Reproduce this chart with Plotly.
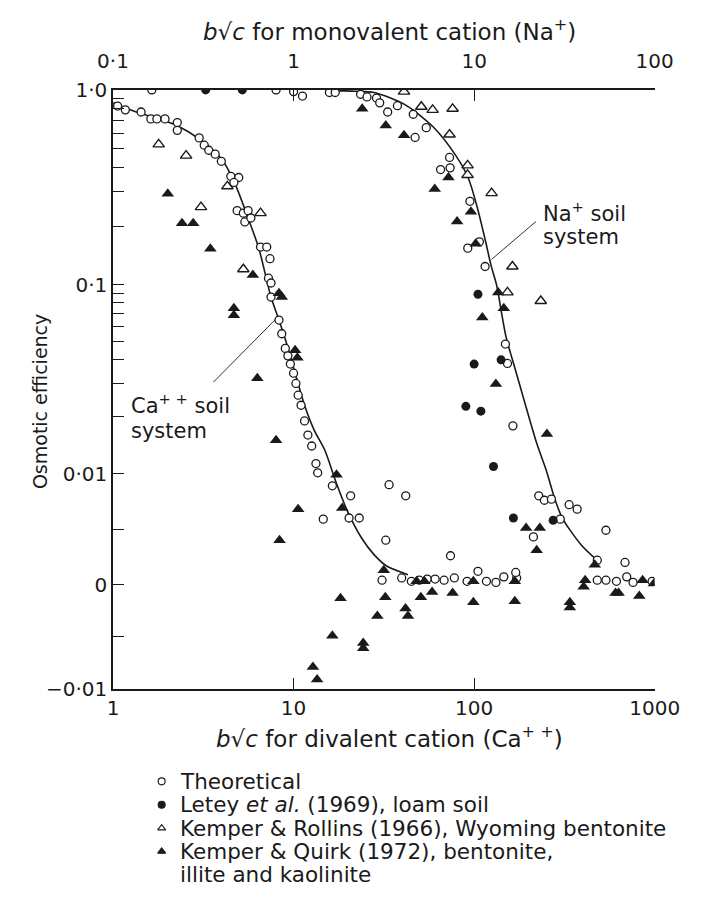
import numpy as np
import plotly.graph_objects as go

# ---------------------------------------------------------------
# Data: x in b*sqrt(c); Ca system on the divalent (bottom) scale,
# Na system on the monovalent (top) scale.
# ---------------------------------------------------------------

# Theoretical points (open circles)
ca_theo_x = [1.06, 1.17, 1.43, 1.62, 1.75, 1.94, 2.27, 2.27, 3.0, 3.2, 3.39, 3.68, 3.98,
             4.49, 4.97, 4.67, 4.87, 5.27, 5.6, 5.37, 5.8, 6.56, 7.1, 7.4, 7.26, 7.5, 7.5,
             8.3, 8.6, 9.0, 9.3, 9.6, 10.0, 10.3, 10.6, 11.0, 11.5, 12.0, 12.6,
             13.3, 13.6, 16.4, 20.7, 14.6, 20.3, 23.1, 33.8, 41.8, 32.4, 30.9, 39.7,
             44.9, 49.7, 55, 60.8, 68.2, 77.7, 91.4, 117, 132, 146, 172, 74, 105, 170]
ca_theo_y = [0.826, 0.79, 0.77, 0.71, 0.71, 0.71, 0.68, 0.62, 0.567, 0.52, 0.49, 0.468, 0.43,
             0.36, 0.355, 0.335, 0.24, 0.233, 0.24, 0.21, 0.22, 0.156, 0.156, 0.136, 0.108, 0.102, 0.086,
             0.065, 0.055, 0.046, 0.042, 0.038, 0.034, 0.03, 0.026, 0.023, 0.019, 0.016, 0.014,
             0.0113, 0.0101, 0.0089, 0.008, 0.0059, 0.006, 0.006, 0.009, 0.008, 0.004, 0.0004, 0.0006,
             0.0003, 0.0004, 0.0005, 0.0005, 0.0004, 0.0006, 0.0003, 0.0003, 0.0002, 0.0007, 0.0006,
             0.0026, 0.0012, 0.0011]
na_theo_x = [0.164, 0.80, 1.00, 1.12, 1.58, 1.70, 2.35, 2.55, 2.88, 3.00, 3.32, 3.76, 4.60,
             4.71, 5.43, 7.31, 6.52, 7.36, 9.48, 9.22, 10.7, 11.5, 14.9, 15.3, 16.4,
             22.8, 24.5, 26.8, 33.6, 37.2, 30.0, 21.3, 53.7, 48.1, 68.5,
             48.1, 53.7, 61.4, 70.0, 75.9, 96.8]
na_theo_y = [1.0, 1.0, 0.98, 0.93, 0.97, 0.97, 0.95, 0.92, 0.908, 0.858, 0.77, 0.83, 0.75,
             0.57, 0.64, 0.45, 0.39, 0.398, 0.268, 0.154, 0.166, 0.124, 0.0485, 0.0383, 0.0179,
             0.008, 0.0076, 0.0077, 0.0072, 0.0068, 0.0059, 0.0043, 0.0049, 0.0022, 0.002,
             0.0004, 0.0004, 0.0003, 0.0007, 0.0002, 0.0003]

# Letey et al. (1969), loam soil (filled circles) - Na system
letey_x = [0.326, 0.52, 10.5, 10.0, 14.1, 9.0, 10.9, 12.8, 16.5, 27.4]
letey_y = [1.0, 1.0, 0.089, 0.038, 0.040, 0.0227, 0.0214, 0.0109, 0.006, 0.0058]

# Kemper & Rollins (1966), Wyoming bentonite (open triangles)
kr_ca_x = [1.79, 2.54, 3.07, 4.3, 6.56, 5.27]
kr_ca_y = [0.525, 0.46, 0.25, 0.32, 0.233, 0.12]
kr_na_x = [4.09, 5.1, 5.89, 7.6, 7.31, 9.2, 9.2, 12.5, 16.3, 15.3, 23.4]
kr_na_y = [0.98, 0.82, 0.79, 0.80, 0.59, 0.41, 0.366, 0.295, 0.124, 0.091, 0.082]

# Kemper & Quirk (1972), bentonite, illite and kaolinite (filled triangles)
kq_ca_x = [2.01, 2.41, 2.78, 3.46, 5.95, 4.67, 4.67, 6.3, 8.0, 8.3, 8.6, 10.2, 10.5,
           17.3, 18.6, 10.6, 8.36, 31.6, 18.2, 32.2, 29.1, 41.7, 16.4, 24.3, 24.3, 12.8, 13.5,
           48, 53, 50.7, 58.5, 76, 43, 99, 99, 168, 168]
kq_ca_y = [0.293, 0.207, 0.207, 0.153, 0.112, 0.075, 0.069, 0.032, 0.015, 0.09, 0.086, 0.045, 0.041,
           0.0099, 0.0069, 0.0068, 0.004, 0.0013, -0.0013, -0.0012, -0.003, -0.0023, -0.0049, -0.0056, -0.0061, -0.0079, -0.0091,
           0.0003, 0.0003, -0.0012, -0.0007, -0.0008, -0.003, 0.0003, -0.0017, 0.0003, -0.0016]
kq_na_x = [2.4, 3.24, 4.09, 7.21, 6.05, 9.6, 8.05, 10.2, 13.6, 14.6, 11.1, 13.2, 25.3,
           19.4, 23.1, 22.2, 46.6, 33.9, 33.9, 41.2, 40.4, 60.7, 63.1, 82.2, 85.7, 99.0]
kq_na_y = [0.80, 0.656, 0.585, 0.355, 0.31, 0.237, 0.211, 0.162, 0.091, 0.075, 0.067, 0.0298, 0.0162,
           0.0051, 0.0051, 0.0031, 0.0018, -0.0017, -0.0022, 0.0004, -0.0002, -0.0008, -0.0008, -0.0011, 0.0004, 0.0001]

# Theoretical curves
ca_curve_x = [1.0, 1.3, 1.7, 2.27, 3.0, 4.0, 4.67, 5.5, 6.4, 7.5, 8.3, 9.2, 10.2, 11.5, 13.0,
              14.9, 17.2, 19.9, 23.8, 27.9, 32.6, 43.0]
ca_curve_y = [0.86, 0.78, 0.72, 0.655, 0.56, 0.44, 0.34, 0.23, 0.155, 0.086, 0.065, 0.048, 0.034,
              0.023, 0.017, 0.0133, 0.0092, 0.0066, 0.0042, 0.0027, 0.0017, 0.0009]
na_curve_x = [1.5, 2.2, 2.79, 4.14, 5.94, 7.92, 9.26, 10.4, 11.5, 12.4, 13.3, 15.0, 16.9, 19.0,
              22.2, 25.0, 28.0, 30.8, 39.1, 48.0]
na_curve_y = [0.995, 0.985, 0.97, 0.84, 0.645, 0.46, 0.355, 0.25, 0.171, 0.126, 0.1, 0.0533, 0.0356,
              0.0241, 0.0145, 0.0105, 0.0077, 0.006, 0.0036, 0.0022]

# Leader lines for the curve labels
ca_leader_x = [3.6, 8.2]
ca_leader_y = [0.0305, 0.0676]
na_leader_x = [22.0, 12.5]
na_leader_y = [0.211, 0.135]

# y-axis ticks
y_major_vals = [1.0, 0.1, 0.01, 0.0, -0.01]
y_major_text = ["1·0", "0·1", "0·01", "0", "\u22120·01"]
y_minor_vals = [0.9, 0.8, 0.7, 0.6, 0.5, 0.4, 0.3, 0.2,
                0.09, 0.08, 0.07, 0.06, 0.05, 0.04, 0.03, 0.02, 0.005, -0.005]

# legend rows
legend_names = ["Theoretical", "Letey <i>et al.</i> (1969), loam soil",
                "Kemper & Rollins (1966), Wyoming bentonite",
                "Kemper & Quirk (1972), bentonite,", "illite and kaolinite"]

# ---------------------------------------------------------------
# Mixed y scale: logarithmic from 1 down to 0.01, linear from 0.01 to -0.01
# ---------------------------------------------------------------
LOG_KEYS, LOG_POS = [-2.0, -1.0, 0.0], [-1.97, -1.0, 0.0]
LIN_KEYS, LIN_POS = [-0.01, 0.0, 0.01], [-3.075, -2.54, -1.97]


def yscale(values):
    v = np.asarray(values, dtype=float)
    logpart = np.interp(np.log10(np.clip(v, 1e-6, None)), LOG_KEYS, LOG_POS)
    linpart = np.interp(v, LIN_KEYS, LIN_POS)
    return np.where(v >= 0.01, logpart, linpart)


INK = "#1a1a1a"
FONT = "DejaVu Sans, Liberation Sans, Arial, sans-serif"
W, H = 707, 918


def fx(px):
    return px / W


def fy(py):
    return 1 - py / H


fig = go.Figure()

line_style = dict(color=INK, width=1.6, shape="spline", smoothing=0.8)
fig.add_trace(go.Scatter(x=ca_curve_x, y=yscale(ca_curve_y), mode="lines",
                         line=line_style, hoverinfo="skip"))
fig.add_trace(go.Scatter(x=na_curve_x, y=yscale(na_curve_y), mode="lines", xaxis="x2",
                         line=line_style, hoverinfo="skip"))
fig.add_trace(go.Scatter(x=ca_leader_x, y=yscale(ca_leader_y), mode="lines",
                         line=dict(color=INK, width=0.9), hoverinfo="skip"))
fig.add_trace(go.Scatter(x=na_leader_x, y=yscale(na_leader_y), mode="lines", xaxis="x2",
                         line=dict(color=INK, width=0.9), hoverinfo="skip"))

open_circle = dict(symbol="circle", size=8, color="white", line=dict(color=INK, width=1.3))
filled_circle = dict(symbol="circle", size=9, color=INK, line=dict(color=INK, width=0))
open_tri = dict(symbol="triangle-up", size=10, color="white", line=dict(color=INK, width=1.4))
filled_tri = dict(symbol="triangle-up", size=11, color=INK, line=dict(color=INK, width=0))

series = [
    (open_circle, ca_theo_x, ca_theo_y, na_theo_x, na_theo_y),
    (filled_circle, [], [], letey_x, letey_y),
    (open_tri, kr_ca_x, kr_ca_y, kr_na_x, kr_na_y),
    (filled_tri, kq_ca_x, kq_ca_y, kq_na_x, kq_na_y),
]
for marker, cx, cy, nx, ny in series:
    if cx:
        fig.add_trace(go.Scatter(x=cx, y=yscale(cy), mode="markers", marker=marker))
    fig.add_trace(go.Scatter(x=nx, y=yscale(ny), mode="markers", marker=marker, xaxis="x2"))

# legend keys: one marker per legend row, drawn in a small auxiliary panel
key_markers = [dict(m, size=7, line=dict(color=INK, width=1.1)) for m, *_ in series]
for row, m in enumerate(key_markers):
    fig.add_trace(go.Scatter(x=[0.012], y=[row], mode="markers", marker=m,
                             xaxis="x3", yaxis="y3", hoverinfo="skip"))
for row, name in enumerate(legend_names):
    fig.add_annotation(x=0.043, y=row, xref="x3", yref="y3", text=name, showarrow=False,
                       xanchor="left", yanchor="middle",
                       font=dict(family=FONT, size=21.5, color=INK))

axis_common = dict(showgrid=False, zeroline=False, showline=True, linecolor=INK, linewidth=1.6,
                   ticks="inside", tickcolor=INK, tickwidth=1.4, ticklen=11,
                   tickfont=dict(family=FONT, size=20, color=INK))

fig.update_layout(
    width=W, height=H,
    margin=dict(l=0, r=0, t=0, b=0),
    paper_bgcolor="white", plot_bgcolor="white",
    showlegend=False,
    font=dict(family=FONT, color=INK),
    xaxis=dict(type="log", range=[0, 3], domain=[fx(103), fx(678)], anchor="y",
               tickvals=[1, 10, 100, 1000], ticktext=["1", "10", "100", "1000"], **axis_common),
    xaxis2=dict(type="log", range=[-1, 2], overlaying="x", side="top", anchor="y",
                tickvals=[0.1, 1, 10, 100], ticktext=["0·1", "1", "10", "100"],
                ticklabelstandoff=12, **axis_common),
    yaxis=dict(range=[LIN_POS[0], LOG_POS[-1]], domain=[fy(695), fy(80)], anchor="x",
               tickvals=list(yscale(y_major_vals)), ticktext=y_major_text,
               minor=dict(tickvals=list(yscale(y_minor_vals)), ticks="inside", ticklen=11,
                          tickcolor=INK, tickwidth=1.4, showgrid=False),
               **axis_common),
    xaxis3=dict(domain=[fx(148), fx(700)], range=[0, 1], visible=False, anchor="y3"),
    yaxis3=dict(domain=[fy(898), fy(778)], range=[4.5, -0.5], visible=False, anchor="x3"),
)

texts = [
    ("<i>b</i>\u221A<i>c</i> for monovalent cation (Na<sup>+</sup>)", 396, 18, 23, "center", 0),
    ("<i>b</i>\u221A<i>c</i> for divalent cation (Ca<sup>+ +</sup>)", 396, 744, 23, "center", 0),
    ("Osmotic efficiency", 25, 400, 19, "center", -90),
    ("Ca<sup>+ +</sup> soil", 120, 403, 21, "left", 0),
    ("system", 120, 430, 21, "left", 0),
    ("Na<sup>+</sup> soil", 557, 205, 21, "left", 0),
    ("system", 557, 231, 21, "left", 0),
]
for text, x, y, size, anchor, angle in texts:
    fig.add_annotation(x=fx(x), y=fy(y), xref="paper", yref="paper", text=text,
                       showarrow=False, textangle=angle, xanchor=anchor, yanchor="middle",
                       font=dict(family=FONT, size=size, color=INK))

fig.write_html("out.html")
